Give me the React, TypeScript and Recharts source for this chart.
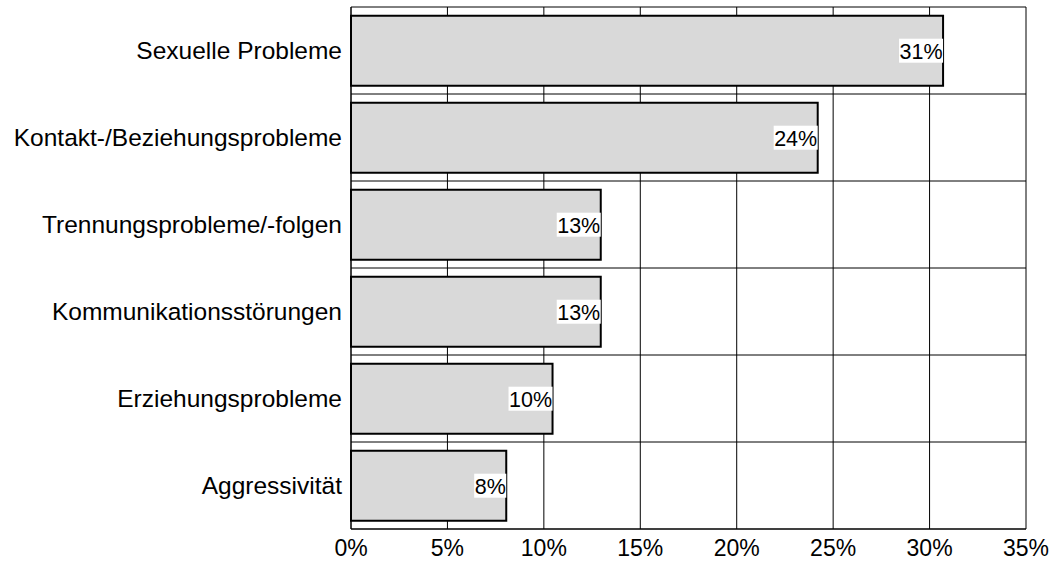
import React from 'react';
import { BarChart, Bar, XAxis, YAxis, CartesianGrid, LabelList } from 'recharts';

const categories = [
  'Sexuelle Probleme',
  'Kontakt-/Beziehungsprobleme',
  'Trennungsprobleme/-folgen',
  'Kommunikationsstörungen',
  'Erziehungsprobleme',
  'Aggressivität',
];
const values = [30.7, 24.2, 12.95, 12.95, 10.45, 8.05];
const xTicks = [0, 5, 10, 15, 20, 25, 30, 35];

const data = categories.map((c, i) => ({ name: c, value: values[i] }));

const FONT = 'Liberation Sans, Arial, sans-serif';
const LABEL_SIZE = 21.5;

const ValueLabel = (props: any) => {
  const { x, y, width, height, value } = props;
  const text = `${Math.round(value)}%`;
  const w = ((text.length - 1) * 0.556 + 0.889) * LABEL_SIZE + 1;
  const h = 24;
  const right = x + width;
  const cy = y + height / 2;
  return (
    <g>
      <rect x={right - w} y={cy - h / 2} width={w} height={h} fill="#ffffff" />
      <text x={right - 0.5} y={cy + 1} textAnchor="end" dominantBaseline="central" fontSize={LABEL_SIZE} fontFamily={FONT} fill="#000">
        {text}
      </text>
    </g>
  );
};

export default function App() {
  const n = categories.length;
  return (
    <div style={{ position: 'absolute', left: 0, top: 0, width: 1063, height: 564, background: '#fff' }}>
      <BarChart
        width={1063}
        height={564}
        data={data}
        layout="vertical"
        margin={{ top: 7, right: 37, left: 0, bottom: 0 }}
        barCategoryGap="10%"
      >
        <CartesianGrid
          stroke="#000"
          strokeWidth={1}
          horizontalCoordinatesGenerator={({ offset }: any) =>
            Array.from({ length: n + 1 }, (_, i) => offset.top + (i * offset.height) / n)
          }
        />
        <XAxis
          type="number"
          domain={[0, 35]}
          ticks={xTicks}
          tickFormatter={(v: number) => `${v}%`}
          height={35}
          tickLine={false}
          axisLine={{ stroke: '#000' }}
          tick={{ fontSize: 23, fontFamily: FONT, fill: '#000' }}
          tickMargin={5}
          interval={0}
        />
        <YAxis
          type="category"
          dataKey="name"
          width={351}
          tickLine={false}
          axisLine={{ stroke: '#000' }}
          tick={{ fontSize: 24.5, fontFamily: FONT, fill: '#000' }}
          tickMargin={3}
          interval={0}
        />
        <Bar dataKey="value" fill="#d9d9d9" stroke="#000" strokeWidth={2} isAnimationActive={false}>
          <LabelList dataKey="value" content={ValueLabel} />
        </Bar>
      </BarChart>
    </div>
  );
}
